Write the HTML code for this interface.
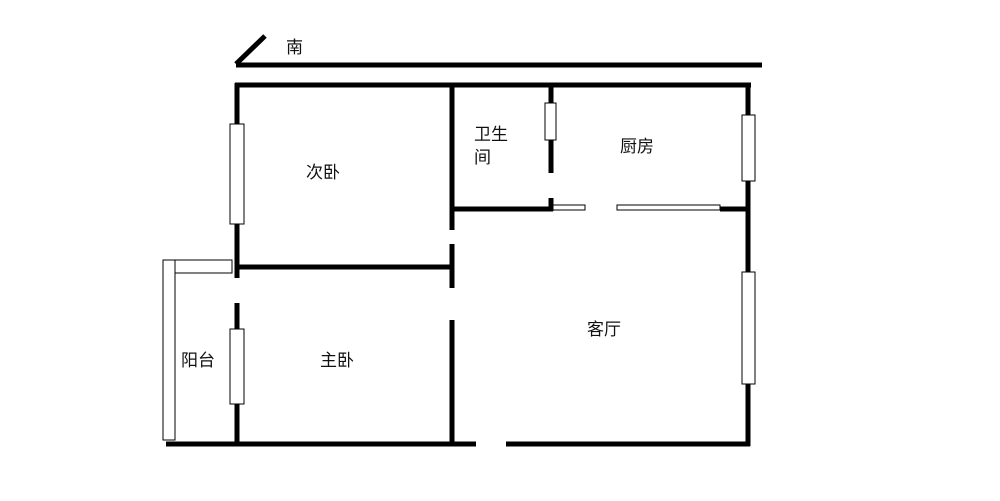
<!DOCTYPE html>
<html><head><meta charset="utf-8"><style>
body{margin:0;background:#fff;}
svg text{font-family:"Liberation Sans","Noto Sans CJK SC",sans-serif;font-size:17px;fill:#111;}
</style></head><body>
<svg width="1000" height="496" viewBox="0 0 1000 496" xmlns="http://www.w3.org/2000/svg">
<g stroke="#000" stroke-width="5" fill="none" stroke-linecap="butt">
<line x1="236" y1="65" x2="762" y2="65"/>
<line x1="236" y1="64" x2="265" y2="36"/>
<line x1="235" y1="85" x2="751" y2="85"/>
<line x1="237" y1="83" x2="237" y2="278"/>
<line x1="237" y1="303" x2="237" y2="446"/>
<line x1="748" y1="83" x2="748" y2="446"/>
<line x1="166" y1="444" x2="476" y2="444"/>
<line x1="506" y1="444" x2="750" y2="444"/>
<line x1="452" y1="85" x2="452" y2="230"/>
<line x1="452" y1="244" x2="452" y2="288"/>
<line x1="452" y1="320" x2="452" y2="446"/>
<line x1="237" y1="267" x2="452" y2="267"/>
<line x1="452" y1="209" x2="553" y2="209"/>
<line x1="551" y1="85" x2="551" y2="173"/>
<line x1="551" y1="198" x2="551" y2="211"/>
<line x1="720" y1="209" x2="750" y2="209"/>
</g>
<g stroke="#000" stroke-width="1" fill="#fff">
<rect x="553" y="205" width="32" height="5"/>
<rect x="617" y="205" width="103" height="5"/>
<rect x="230" y="124" width="14" height="100"/>
<rect x="230" y="329" width="14" height="75"/>
<rect x="545" y="103" width="11" height="37"/>
<rect x="742" y="115" width="13" height="66"/>
<rect x="742" y="272" width="13" height="112"/>
<rect x="163" y="260" width="12" height="180"/>
<rect x="175" y="260" width="57" height="13"/>
</g>
<text x="286" y="53">南</text>
<text x="306" y="178">次卧</text>
<text x="474" y="140">卫生</text>
<text x="474" y="163">间</text>
<text x="620" y="152">厨房</text>
<text x="587" y="335">客厅</text>
<text x="181" y="366">阳台</text>
<text x="320" y="366">主卧</text>
</svg>
</body></html>
